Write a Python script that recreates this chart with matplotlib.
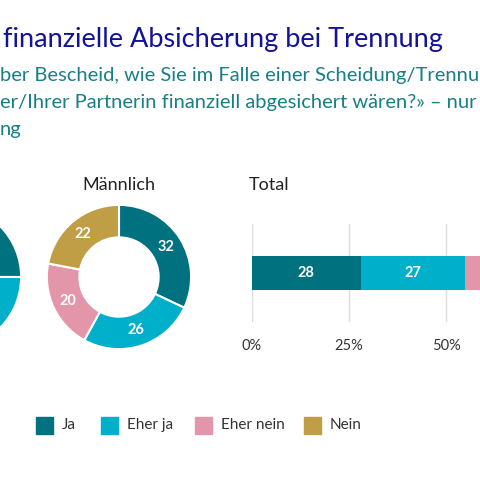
import numpy as np
import matplotlib.pyplot as plt

plt.rcParams['font.family'] = ['Lato', 'DejaVu Sans']

categories = ["Ja", "Eher ja", "Eher nein", "Nein"]
colors = ["#00717f", "#00afc9", "#e396aa", "#bf9e46"]
weiblich = [25, 28, 22, 25]   # mostly outside the crop, estimated
maennlich = [32, 26, 20, 22]
total = [28, 27, 21, 24]
ticks = [0, 25, 50, 75, 100]
tick_labels = ["0%", "25%", "50%", "75%", "100%"]

W = H = 480
fig = plt.figure(figsize=(4.8, 4.8), dpi=100)


def px_axes(x0, y0, w, h):
    # pixel box measured from top-left
    return fig.add_axes([x0 / W, 1 - (y0 + h) / H, w / W, h / H])


fig.text(3 / W, 1 - 40 / H, "finanzielle Absicherung bei Trennung",
         color="#12129a", fontsize=19.5, va="center", ha="left")
sub = ["ber Bescheid, wie Sie im Falle einer Scheidung/Trennung",
       "er/Ihrer Partnerin finanziell abgesichert wären?» – nur",
       "ng"]
for i, s in enumerate(sub):
    fig.text(0, 1 - (76 + 26.5 * i) / H, s, color="#177f85", fontsize=14.5,
             va="center", ha="left")


def donut(cx, cy, vals, label=None, show_values=True):
    ax = px_axes(cx - 75, cy - 75, 150, 150)
    ax.pie(vals, colors=colors, startangle=90, counterclock=False,
           radius=1, wedgeprops=dict(width=0.45, edgecolor="white", linewidth=1.5))
    ax.set_xlim(-1.04, 1.04)
    ax.set_ylim(-1.04, 1.04)
    ax.set_aspect("equal")
    if show_values:
        cum = 0
        for v in vals:
            mid = 90 - (cum + v / 2) * 3.6
            r = 0.78
            ax.text(r * np.cos(np.radians(mid)), r * np.sin(np.radians(mid)), str(v),
                    color="white", fontsize=10.5, fontweight="bold", ha="center", va="center")
            cum += v
    if label:
        fig.text(cx / W, 1 - 185 / H, label, fontsize=13, ha="center", va="center", color="#222222")


donut(-51, 277, weiblich, show_values=False)
donut(119, 277, maennlich, "Männlich")

fig.text(249 / W, 1 - 185 / H, "Total", fontsize=13, ha="left", va="center", color="#222222")

ax = px_axes(252, 224, 388, 98)
left = 0
for v, c in zip(total, colors):
    ax.barh(0, v, left=left, height=0.35, color=c, zorder=3)
    ax.text(left + v / 2, 0, str(v), color="white", fontsize=10.5, fontweight="bold",
            ha="center", va="center", zorder=4)
    left += v
ax.set_xlim(0, 100)
ax.set_ylim(-0.5, 0.5)
ax.set_xticks(ticks)
ax.set_xticklabels(tick_labels, fontsize=10.5, color="#333333")
ax.tick_params(axis="x", length=0, pad=12)
ax.set_yticks([])
ax.grid(axis="x", color="#dddddd", linewidth=1, zorder=0)
for s in ax.spines.values():
    s.set_visible(False)

legend_x = [36, 101, 195, 304]
for x, c, name in zip(legend_x, colors, categories):
    fig.patches.append(plt.Rectangle((x / W, 1 - 434 / H), 17 / W, 17 / H,
                                     color=c, transform=fig.transFigure))
    fig.text((x + 26) / W, 1 - 425 / H, name, fontsize=11, va="center", color="#333333")

fig.savefig("out.png", dpi=100, facecolor="white")
